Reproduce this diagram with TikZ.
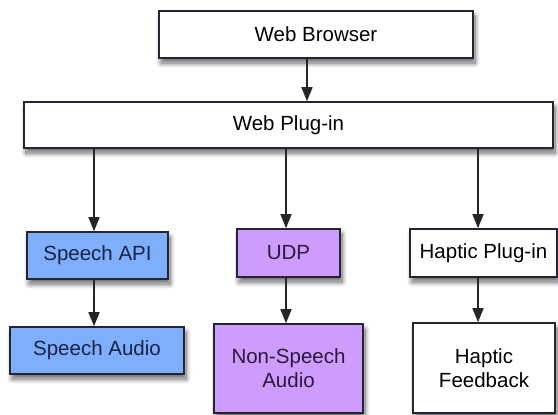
\documentclass[tikz,border=0pt]{standalone}
\usepackage{fontspec}
\setmainfont{Liberation Sans}
\usetikzlibrary{arrows.meta,shadows.blur}

\definecolor{speechblue}{RGB}{127,174,251}
\definecolor{udppurple}{RGB}{206,156,252}
\definecolor{edgedark}{RGB}{35,38,50}
\definecolor{bluetext}{RGB}{25,35,70}
\definecolor{purpletext}{RGB}{45,25,60}

\tikzset{
  box/.style={draw=edgedark, line width=1.6pt, fill=white, inner sep=2pt,
    align=center, font=\fontsize{20.5}{24}\selectfont,
    blur shadow={shadow xshift=2pt, shadow yshift=-5pt, shadow blur steps=12,
      shadow opacity=60, shadow blur radius=5pt}},
  bluebox/.style={box, fill=speechblue, text=bluetext},
  purplebox/.style={box, fill=udppurple, text=purpletext},
  arr/.style={line width=1.6pt, draw=black!85,
    -{Triangle[length=14pt,width=11pt]}}
}

\begin{document}
\begin{tikzpicture}[x=1pt,y=-1pt]
  \useasboundingbox (0,0) rectangle (558,415);

  % top layers
  \node[box, minimum width=314pt, minimum height=47pt] (browser) at (316,34.5) {Web Browser};
  \node[box, minimum width=529pt, minimum height=46pt] (plugin) at (288.5,125) {Web Plug-in};

  % middle row
  \node[bluebox, minimum width=141pt, minimum height=47pt] (api) at (97.5,255.5) {Speech API};
  \node[purplebox, minimum width=103pt, minimum height=48pt] (udp) at (288.5,253) {UDP};
  \node[box, minimum width=147pt, minimum height=48pt] (hplug) at (483.5,253) {Haptic Plug-in};

  % bottom row
  \node[bluebox, minimum width=174pt, minimum height=47pt] (saudio) at (97,350.5) {Speech Audio};
  \node[purplebox, minimum width=149pt, minimum height=89pt] (nsaudio) at (288.5,368.5) {Non-Speech\\Audio};
  \node[box, minimum width=142pt, minimum height=90pt] (hfeed) at (484,368) {Haptic\\Feedback};

  % connectors
  \draw[arr] ([xshift=-9pt]browser.south) -- ([xshift=-9pt]browser.south |- plugin.north);
  \draw[arr] ([xshift=-3.5pt]api.north |- plugin.south) -- ([xshift=-3.5pt]api.north);
  \draw[arr] ([xshift=-2.5pt]udp.north |- plugin.south) -- ([xshift=-2.5pt]udp.north);
  \draw[arr] ([xshift=-5.5pt]hplug.north |- plugin.south) -- ([xshift=-5.5pt]hplug.north);
  \draw[arr] ([xshift=-3.5pt]api.south) -- ([xshift=-3.5pt]api.south |- saudio.north);
  \draw[arr] ([xshift=-2.5pt]udp.south) -- ([xshift=-2.5pt]udp.south |- nsaudio.north);
  \draw[arr] ([xshift=-5.5pt]hplug.south) -- ([xshift=-5.5pt]hplug.south |- hfeed.north);
\end{tikzpicture}
\end{document}
